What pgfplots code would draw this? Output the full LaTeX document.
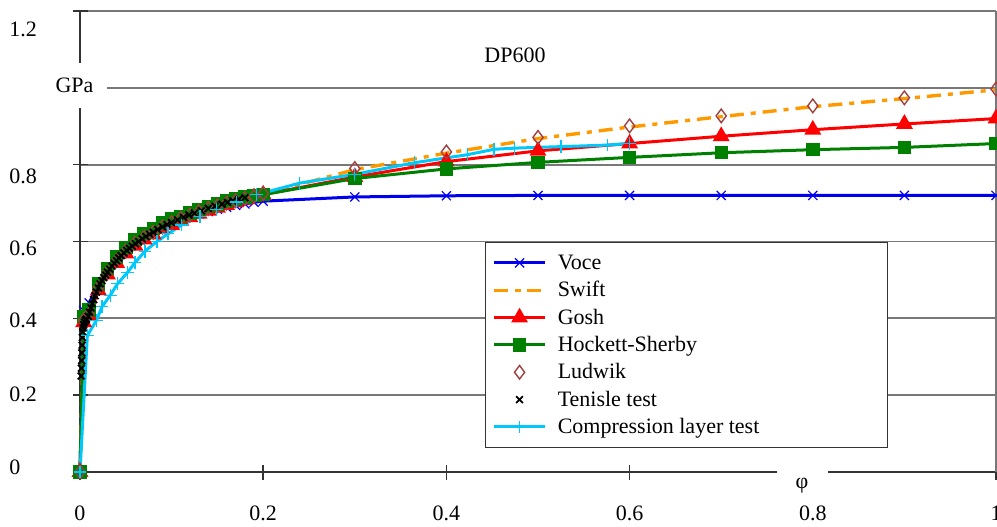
\documentclass[border=0pt]{standalone}
\usepackage{fontspec}
\setmainfont{Liberation Serif}
\usepackage{pgfplots}
\pgfplotsset{compat=1.18}
\definecolor{voce}{RGB}{0,0,240}
\definecolor{swift}{RGB}{255,153,0}
\definecolor{gosh}{RGB}{255,0,0}
\definecolor{hs}{RGB}{0,128,0}
\definecolor{ludwik}{RGB}{160,64,64}
\definecolor{comp}{RGB}{0,200,250}
\definecolor{gridc}{RGB}{120,120,120}
\begin{document}
\begin{tikzpicture}[font=\fontsize{11}{13}\selectfont]
\begin{axis}[
  scale only axis, width=458pt, height=230.5pt,
  xmin=0, xmax=1, ymin=0, ymax=1.2,
  axis x line=bottom, axis y line=left,
  axis line style={-, black!80, line width=0.8pt},
  xtick={0,0.2,0.4,0.6,0.8,1}, xticklabels={0,0.2,0.4,0.6,0.8,1},
  ytick={0,0.2,0.4,0.6,0.8,1,1.2}, yticklabels={},
  tick align=center, major tick length=7.5pt,
  tick style={black!80, line width=0.8pt},
  ymajorgrids, grid style={gridc, line width=0.9pt},
  extra y ticks={0.013,0.201,0.395,0.582,0.769,1.151},
  extra y tick labels={0,0.2,0.4,0.6,0.8,1.2},
  extra y tick style={grid=none, major tick length=0pt},
  yticklabel style={anchor=west, inner sep=0pt, xshift=-35.5pt},
  xticklabel style={anchor=base, inner sep=0pt, yshift=-20.5pt},
  clip=false,
  legend image code/.code={\draw[mark repeat=2,mark phase=2,#1] plot coordinates {(0pt,0pt) (12.75pt,0pt) (25.5pt,0pt)};},
  legend cell align=left,
  legend style={at={(axis cs:0.4421,0.5987)}, anchor=north west, draw=black!80, fill=white,
    inner xsep=3.5pt, inner ysep=4.5pt, row sep=2.17pt, column sep=5.5pt,
    nodes={inner sep=0pt, text height=9pt, text depth=2.5pt}},
]
\addplot[voce, line width=1.5pt, mark=x, mark size=3.2pt, mark options={line width=0.6pt}] coordinates {
(0,0) (0.004,0.42) (0.01,0.44) (0.02,0.49) (0.03,0.525) (0.04,0.555) (0.05,0.578) (0.06,0.597)
(0.07,0.613) (0.08,0.627) (0.09,0.638) (0.1,0.648) (0.11,0.657) (0.12,0.665) (0.13,0.672)
(0.14,0.678) (0.15,0.684) (0.16,0.689) (0.17,0.694) (0.18,0.698) (0.19,0.702) (0.2,0.705)
(0.3,0.716) (0.4,0.719) (0.5,0.72) (0.6,0.72) (0.7,0.72) (0.8,0.72) (0.9,0.72) (1.0,0.72)};
\addplot[swift, line width=1.7pt, dash pattern=on 7pt off 3.5pt on 2.5pt off 3.5pt, no marks] coordinates {
(0,0) (0.004,0.395) (0.01,0.412) (0.02,0.479) (0.03,0.52) (0.04,0.55) (0.05,0.575) (0.06,0.595)
(0.07,0.611) (0.08,0.624) (0.09,0.638) (0.1,0.649) (0.11,0.66) (0.12,0.669) (0.13,0.678)
(0.14,0.686) (0.15,0.693) (0.16,0.7) (0.17,0.706) (0.18,0.712) (0.19,0.717) (0.2,0.723)
(0.3,0.787) (0.4,0.83) (0.5,0.868) (0.6,0.898) (0.7,0.925) (0.8,0.951) (0.9,0.972) (1.0,0.995)};
\addplot[gosh, line width=1.5pt, mark=triangle*, mark size=3.4pt] coordinates {
(0,0) (0.004,0.39) (0.01,0.406) (0.02,0.473) (0.03,0.514) (0.04,0.544) (0.05,0.569) (0.06,0.589)
(0.07,0.605) (0.08,0.618) (0.09,0.632) (0.1,0.643) (0.11,0.654) (0.12,0.663) (0.13,0.672)
(0.14,0.68) (0.15,0.688) (0.16,0.695) (0.17,0.702) (0.18,0.709) (0.19,0.715) (0.2,0.722)
(0.3,0.768) (0.4,0.808) (0.5,0.836) (0.6,0.855) (0.7,0.874) (0.8,0.891) (0.9,0.906) (1.0,0.92)};
\addplot[hs, line width=1.5pt, mark=square*, mark size=2.6pt] coordinates {
(0,0) (0.004,0.405) (0.01,0.422) (0.02,0.489) (0.03,0.53) (0.04,0.56) (0.05,0.585) (0.06,0.605)
(0.07,0.621) (0.08,0.634) (0.09,0.648) (0.1,0.659) (0.11,0.665) (0.12,0.674) (0.13,0.683)
(0.14,0.691) (0.15,0.698) (0.16,0.705) (0.17,0.711) (0.18,0.716) (0.19,0.72) (0.2,0.722)
(0.3,0.764) (0.4,0.789) (0.5,0.806) (0.6,0.819) (0.7,0.831) (0.8,0.839) (0.9,0.845) (1.0,0.855)};
\addplot[ludwik, only marks, mark=diamond, mark size=3.4pt, mark options={line width=0.7pt}] coordinates {
(0,0) (0.004,0.395) (0.01,0.412) (0.02,0.479) (0.03,0.52) (0.04,0.55) (0.05,0.575) (0.06,0.595)
(0.07,0.611) (0.08,0.624) (0.09,0.638) (0.1,0.649) (0.11,0.66) (0.12,0.669) (0.13,0.678)
(0.14,0.686) (0.15,0.693) (0.16,0.7) (0.17,0.706) (0.18,0.712) (0.19,0.717) (0.2,0.725)
(0.3,0.79) (0.4,0.833) (0.5,0.871) (0.6,0.901) (0.7,0.927) (0.8,0.953) (0.9,0.974) (1.0,0.997)};
\addplot[black, only marks, mark=x, mark size=2.4pt, mark options={line width=0.9pt}] coordinates {
(0.0012,0.25) (0.0015,0.27) (0.0018,0.29) (0.002,0.31) (0.0023,0.33) (0.0026,0.35) (0.003,0.365)
(0.0035,0.375) (0.004,0.383) (0.005,0.39) (0.006,0.395) (0.007,0.398) (0.009,0.405) (0.0105,0.416)
(0.012,0.427) (0.0135,0.438) (0.015,0.449) (0.0165,0.459) (0.018,0.468) (0.02,0.479) (0.022,0.49)
(0.024,0.498) (0.026,0.506) (0.028,0.513) (0.03,0.52) (0.0325,0.528) (0.035,0.536) (0.0375,0.543)
(0.04,0.55) (0.0425,0.557) (0.045,0.563) (0.048,0.57) (0.051,0.577) (0.054,0.582) (0.057,0.588)
(0.0605,0.594) (0.064,0.6) (0.068,0.607) (0.072,0.613) (0.076,0.619) (0.08,0.624) (0.085,0.631)
(0.09,0.638) (0.095,0.644) (0.1,0.649) (0.1065,0.656) (0.113,0.663) (0.119,0.669) (0.125,0.674)
(0.1325,0.68) (0.14,0.686) (0.1475,0.692) (0.155,0.697) (0.161,0.702) (0.167,0.706) (0.1735,0.71)
(0.18,0.714)};
\addplot[comp, line width=1.5pt, mark=+, mark size=3.2pt, mark options={line width=0.6pt}] coordinates {
(0,0) (0.008,0.355) (0.018,0.395) (0.024,0.43) (0.033,0.46) (0.041,0.49) (0.052,0.52) (0.06,0.545)
(0.071,0.575) (0.084,0.6) (0.096,0.62) (0.111,0.643) (0.131,0.665) (0.149,0.683) (0.171,0.703)
(0.193,0.722) (0.24,0.752) (0.3,0.775) (0.365,0.805) (0.423,0.826) (0.452,0.84) (0.474,0.843)
(0.525,0.847) (0.576,0.851) (0.6,0.855)};
\draw[gridc, line width=0.9pt] (rel axis cs:1,0) -- (rel axis cs:1,1);
\legend{Voce,Swift,Gosh,Hockett-Sherby,Ludwik,Tenisle test,\makebox[161.5pt][l]{Compression layer test}}
\end{axis}
\fill[white] (-15pt,182pt) rectangle (13.5pt,204.5pt);
\node[anchor=center, inner sep=0pt] at (-2.75pt,193.2pt) {GPa};
\fill[white] (348.5pt,-4pt) rectangle (374pt,3.5pt);
\node[anchor=base, inner sep=0pt] at (361pt,-8pt) {φ};
\node[inner sep=0pt] at (217.5pt,208.5pt) {DP600};
\pgfresetboundingbox
\path[use as bounding box] (-40pt,-27pt) rectangle (458.5pt,236pt);
\end{tikzpicture}
\end{document}
